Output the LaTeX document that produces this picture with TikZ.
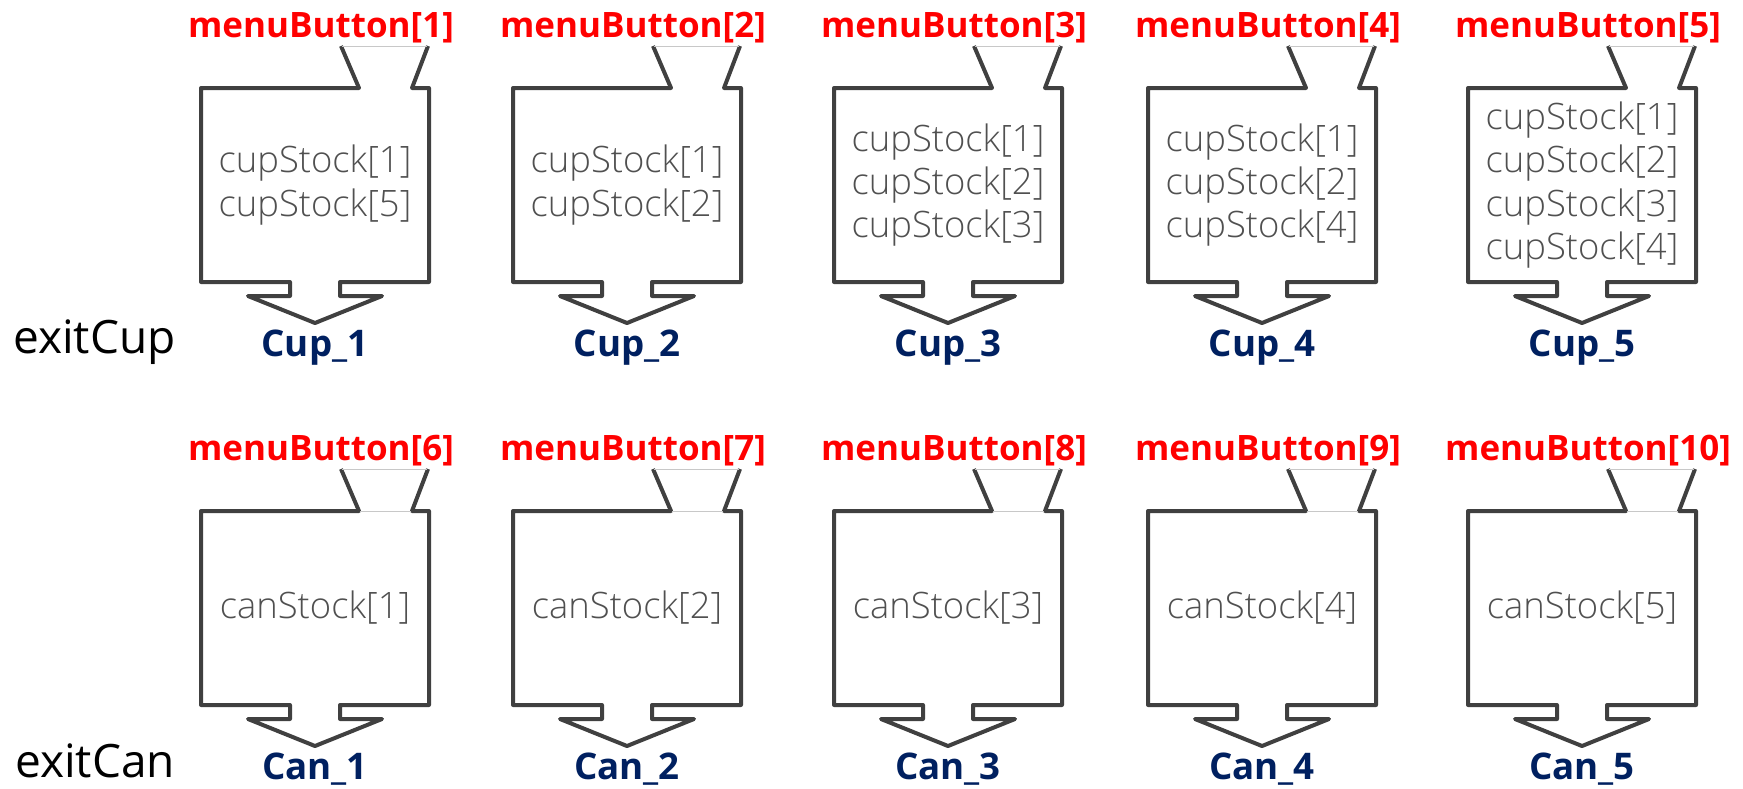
\documentclass[tikz,border=0pt]{standalone}
\usepackage{fontspec}
\setmainfont{Open Sans}
\newfontfamily\lightfont{Open Sans Light}
\definecolor{binedge}{HTML}{404040}
\definecolor{rimgray}{HTML}{C8C8C8}
\definecolor{stockgray}{HTML}{505050}
\definecolor{buttonred}{HTML}{FF0000}
\definecolor{exitnavy}{HTML}{002060}
\tikzset{
  binline/.style={draw=binedge, line width=4pt, line join=round},
  rimline/.style={draw=rimgray, line width=1pt},
  stocktext/.style={text=stockgray, font=\lightfont\fontsize{36.4}{43.3}\selectfont, align=center, inner sep=0pt},
  buttonlabel/.style={text=buttonred, font=\bfseries\fontsize{35}{40}\selectfont, anchor=base, inner sep=0pt},
  exitlabel/.style={text=exitnavy, font=\bfseries\fontsize{36.7}{42}\selectfont, anchor=base, inner sep=0pt},
  rowlabel/.style={font=\fontsize{46}{52}\selectfont, anchor=base west, inner sep=0pt},
}
% #1 id, #2 left edge, #3 top edge, #4 contents, #5 button, #6 exit, #7 draw gap line (1/0)
\newcommand{\drawbin}[7]{%
  \pgfmathsetmacro{\bL}{#2}%
  \pgfmathsetmacro{\bR}{#2+228}%
  \pgfmathsetmacro{\bC}{#2+114}%
  \pgfmathsetmacro{\bT}{#3}%
  \pgfmathsetmacro{\bB}{#3+194}%
  \pgfmathsetmacro{\bM}{#3+97}%
  \pgfmathsetmacro{\fT}{#3-42}%
  \draw[binline] (\bR-88,\fT) -- (\bR-70,\bT) -- (\bL,\bT) -- (\bL,\bB)
    -- (\bC-25,\bB) -- (\bC-25,\bB+14) -- (\bC-67,\bB+14) -- (\bC,\bB+41)
    -- (\bC+67,\bB+14) -- (\bC+25,\bB+14) -- (\bC+25,\bB) -- (\bR,\bB)
    -- (\bR,\bT) -- (\bR-17,\bT) -- (\bR-1,\fT);
  \draw[rimline] (\bR-87,\fT) -- (\bR-2,\fT);
  \ifnum#7=1 \draw[rimline] (\bR-69,\bT) -- (\bR-18,\bT);\fi
  \node[stocktext] (stock#1) at (\bC,\bM) {#4};
  \node[buttonlabel] (button#1) at (\bC+6,\fT-9) {#5};
  \node[exitlabel] (exit#1) at (\bC,\bB+74) {#6};
}
\begin{document}
\begin{tikzpicture}[x=1pt,y=-1pt]
  \useasboundingbox (0,0) rectangle (1743,788);
  % cup dispensers
  \drawbin{1}{201}{88}{cupStock[1]\\cupStock[5]}{menuButton[1]}{Cup\_1}{0}
  \drawbin{2}{513}{88}{cupStock[1]\\cupStock[2]}{menuButton[2]}{Cup\_2}{0}
  \drawbin{3}{834}{88}{cupStock[1]\\cupStock[2]\\cupStock[3]}{menuButton[3]}{Cup\_3}{0}
  \drawbin{4}{1148}{88}{cupStock[1]\\cupStock[2]\\cupStock[4]}{menuButton[4]}{Cup\_4}{0}
  \drawbin{5}{1468}{88}{cupStock[1]\\cupStock[2]\\cupStock[3]\\cupStock[4]}{menuButton[5]}{Cup\_5}{0}
  % can dispensers
  \drawbin{6}{201}{511}{canStock[1]}{menuButton[6]}{Can\_1}{1}
  \drawbin{7}{513}{511}{canStock[2]}{menuButton[7]}{Can\_2}{1}
  \drawbin{8}{834}{511}{canStock[3]}{menuButton[8]}{Can\_3}{1}
  \drawbin{9}{1148}{511}{canStock[4]}{menuButton[9]}{Can\_4}{1}
  \drawbin{10}{1468}{511}{canStock[5]}{menuButton[10]}{Can\_5}{1}
  % row captions
  \node[rowlabel] (exitcup) at (13,353) {exitCup};
  \node[rowlabel] (exitcan) at (15,777) {exitCan};
\end{tikzpicture}
\end{document}
